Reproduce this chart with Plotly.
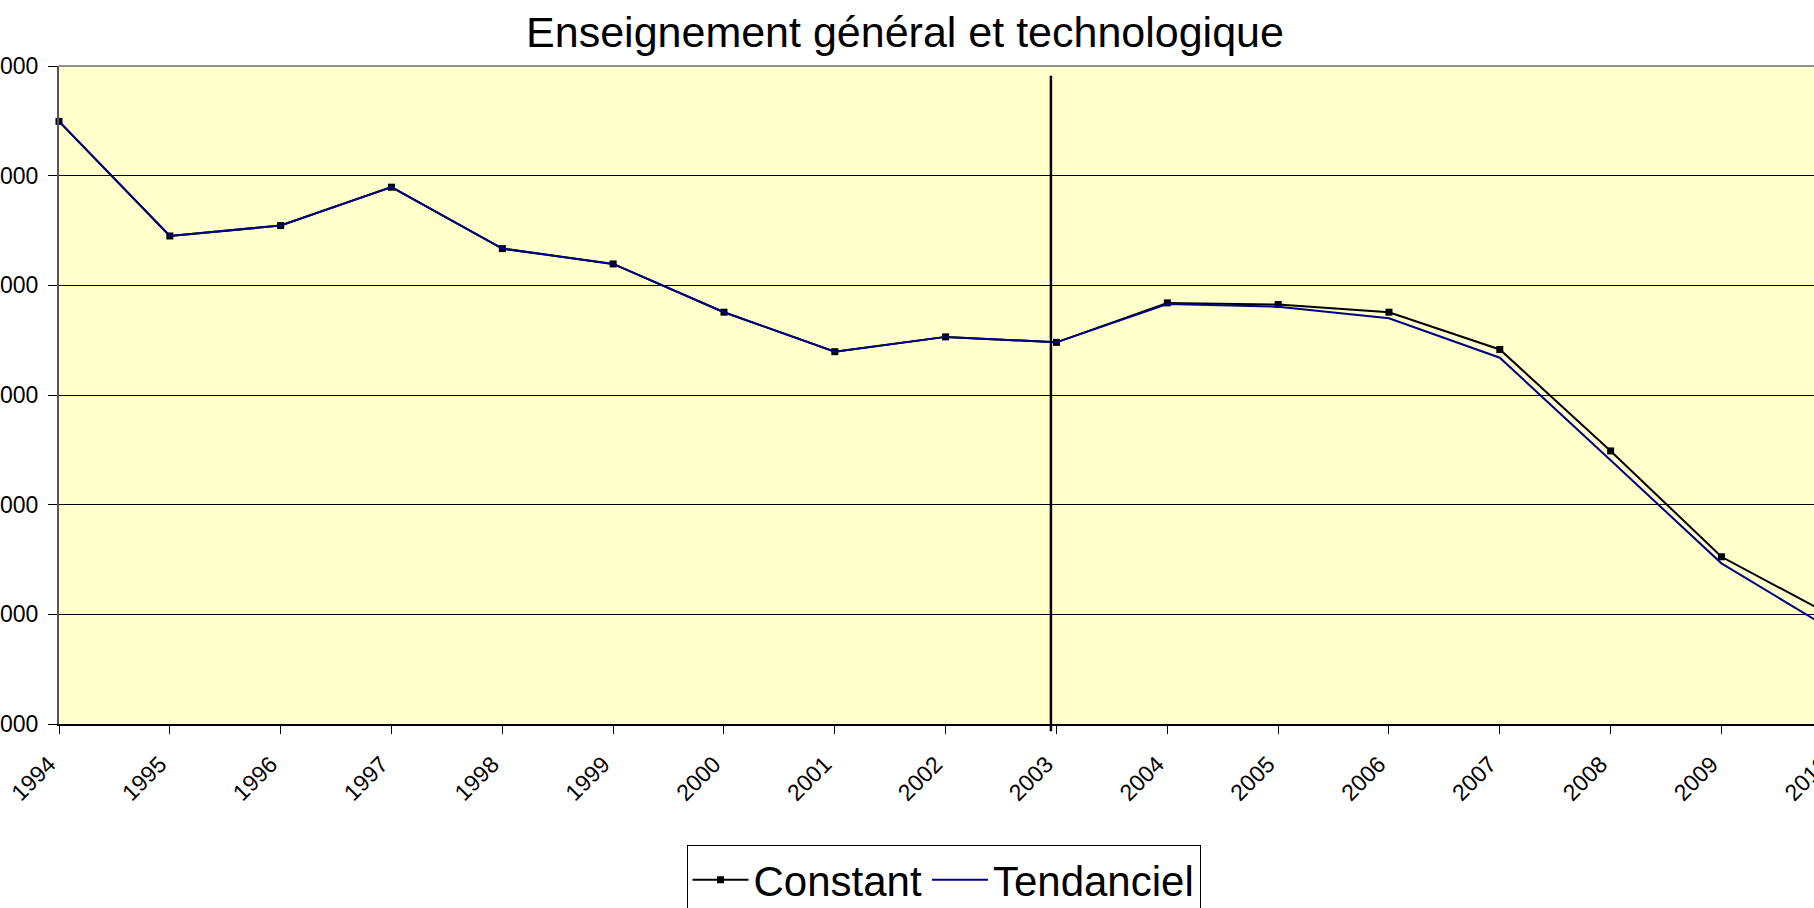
import plotly.graph_objects as go

years = list(range(1994, 2011))
constant = [1509900, 1489000, 1490900, 1497900, 1486700, 1483900, 1475100, 1467900,
            1470600, 1469600, 1476800, 1476500, 1475100, 1468300, 1449800, 1430500, 1419700]
tendanciel = [1509900, 1489000, 1490900, 1497900, 1486700, 1483900, 1475100, 1467900,
              1470600, 1469600, 1476600, 1476100, 1474000, 1466800, 1448100, 1429300, 1417100]
y_ticks = [1400000, 1420000, 1440000, 1460000, 1480000, 1500000, 1520000]
break_year = 2002.95

W, H = 1850, 908
L, T, B = 59, 66, 184
px_per_year = 110.83

fig = go.Figure()
fig.add_trace(go.Scatter(
    x=years, y=constant, name="Constant", mode="lines+markers",
    line=dict(color="black", width=2),
    marker=dict(symbol="square", size=7, color="black"),
    cliponaxis=False,
))
fig.add_trace(go.Scatter(
    x=years, y=tendanciel, name="Tendanciel", mode="lines",
    line=dict(color="#000080", width=2),
    cliponaxis=False,
))

font = "Liberation Sans, Arial, sans-serif"
fig.update_layout(
    template="none",
    width=W, height=H,
    margin=dict(l=L, r=0, t=T, b=B, autoexpand=False),
    paper_bgcolor="white",
    plot_bgcolor="#FFFFCC",
    separators=", ",
    title=dict(text="Enseignement général et technologique", x=905 / W, xanchor="center",
               y=1 - 32 / H, yanchor="middle", yref="container",
               font=dict(family=font, size=43, color="black")),
    xaxis=dict(range=[1994, 1994 + (W - L) / px_per_year], tickvals=years, tickangle=-45,
               ticks="outside", ticklen=8, tickcolor="black", tickwidth=1,
               ticklabelstandoff=8, ticklabelshift=-10,
               showline=True, linecolor="black", linewidth=1.5,
               showgrid=False, zeroline=False, automargin=False,
               tickfont=dict(family=font, size=23, color="black")),
    yaxis=dict(range=[y_ticks[0], y_ticks[-1]], tickvals=y_ticks, tickformat=",d",
               ticks="outside", ticklen=9, tickcolor="black", tickwidth=1,
               ticklabelstandoff=5,
               showline=True, linecolor="#555555", linewidth=2,
               showgrid=True, gridcolor="black", gridwidth=1, zeroline=False,
               automargin=False,
               tickfont=dict(family=font, size=23, color="black")),
    legend=dict(orientation="h", x=(943.5 - L) / (W - L), xanchor="center",
                y=-(845 - 724) / 658, yanchor="top",
                bordercolor="black", borderwidth=1, bgcolor="white",
                font=dict(family=font, size=42, color="black"),
                itemwidth=56, tracegroupgap=0),
    showlegend=True,
    shapes=[
        dict(type="line", xref="paper", yref="paper", x0=0, x1=1, y0=1, y1=1,
             line=dict(color="#909090", width=2)),
        dict(type="line", xref="x", yref="paper", x0=break_year, x1=break_year,
             y0=-0.011, y1=0.985, line=dict(color="black", width=2.5)),
    ],
)

fig.write_html(
    "out.html",
    config={"displayModeBar": False},
    post_script=(
        "document.body.style.margin='0';"
        "document.body.style.overflow='hidden';"
        "document.documentElement.style.overflow='hidden';"
    ),
)
